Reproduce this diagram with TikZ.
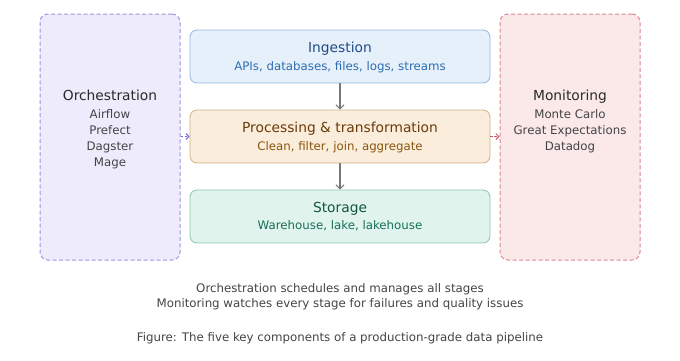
\documentclass[tikz,border=0pt]{standalone}
\usepackage{fontspec}
\setmainfont{DejaVu Sans}
\usetikzlibrary{arrows.meta}
\definecolor{orchfill}{HTML}{EEEBFC}
\definecolor{orchline}{HTML}{9F94E0}
\definecolor{orcharrow}{HTML}{7A66CC}
\definecolor{monfill}{HTML}{FBE9EA}
\definecolor{monline}{HTML}{D88A92}
\definecolor{monarrow}{HTML}{C0606A}
\definecolor{ingfill}{HTML}{E5F0FB}
\definecolor{ingline}{HTML}{94B9DF}
\definecolor{ingtitle}{HTML}{1F4D86}
\definecolor{ingsub}{HTML}{2F6DB0}
\definecolor{procfill}{HTML}{FBEDDC}
\definecolor{procline}{HTML}{D2AF86}
\definecolor{proctitle}{HTML}{6A3B08}
\definecolor{procsub}{HTML}{8A560F}
\definecolor{storfill}{HTML}{E0F3EC}
\definecolor{storline}{HTML}{8CC8B0}
\definecolor{stortitle}{HTML}{115543}
\definecolor{storsub}{HTML}{17705A}
\definecolor{sidetitle}{HTML}{2A2A2A}
\definecolor{sidetext}{HTML}{444444}
\definecolor{captext}{HTML}{444444}
\definecolor{flowgray}{HTML}{777777}
\begin{document}
\begin{tikzpicture}[x=1pt,y=-1pt,
  stagebox/.style={draw, line width=0.8pt, rounded corners=7pt, minimum width=300pt, minimum height=53pt, inner sep=0pt},
  sidebox/.style={draw, line width=1pt, dash pattern=on 4pt off 2.5pt, rounded corners=8pt, minimum width=140pt, minimum height=246pt, inner sep=0pt},
  ttl/.style={anchor=base, inner sep=0pt, font=\fontsize{13.8}{16}\selectfont},
  sub/.style={anchor=base, inner sep=0pt, font=\fontsize{11.8}{14}\selectfont},
  flow/.style={draw=flowgray, line width=1.1pt, -{Straight Barb[length=4pt,width=8pt]}},
  sideflow/.style={line width=1pt, dash pattern=on 2.5pt off 1.5pt, -{Straight Barb[length=3pt,width=6pt]}}
]
\path[use as bounding box] (0,0) rectangle (680,360);

% side boxes
\node[sidebox, fill=orchfill, draw=orchline] (orch) at (110,137) {};
\node[sidebox, fill=monfill, draw=monline] (mon) at (570,137) {};

% stage boxes
\node[stagebox, fill=ingfill, draw=ingline] (ing) at (340,56.5) {};
\node[stagebox, fill=procfill, draw=procline] (proc) at (340,136.5) {};
\node[stagebox, fill=storfill, draw=storline] (stor) at (340,216.5) {};

% stage texts
\node[ttl, text=ingtitle] (ingT) at (340,52) {Ingestion};
\node[sub, text=ingsub] (ingS) at (340,70) {APIs, databases, files, logs, streams};
\node[ttl, text=proctitle] (procT) at (340,132) {Processing \& transformation};
\node[sub, text=procsub] (procS) at (340,150) {Clean, filter, join, aggregate};
\node[ttl, text=stortitle] (storT) at (340,212) {Storage};
\node[sub, text=storsub] (storS) at (340,229.5) {Warehouse, lake, lakehouse};

% side texts
\node[ttl, text=sidetitle] (orchT) at (110,100) {Orchestration};
\node[sub, text=sidetext] (orch1) at (110,118) {Airflow};
\node[sub, text=sidetext] (orch2) at (110,134) {Prefect};
\node[sub, text=sidetext] (orch3) at (110,150) {Dagster};
\node[sub, text=sidetext] (orch4) at (110,166) {Mage};

\node[ttl, text=sidetitle] (monT) at (570,100) {Monitoring};
\node[sub, text=sidetext] (mon1) at (570,118) {Monte Carlo};
\node[sub, text=sidetext] (mon2) at (570,134) {Great Expectations};
\node[sub, text=sidetext] (mon3) at (570,150) {Datadog};

% connectors
\draw[flow] (ing.south) -- (proc.north);
\draw[flow] (proc.south) -- (stor.north);
\draw[sideflow, draw=orcharrow] (orch.east |- proc.west) -- (proc.west);
\draw[sideflow, draw=monarrow] (proc.east) -- (mon.west |- proc.east);

% captions
\node[sub, text=captext] (cap1) at (340,292.5) {Orchestration schedules and manages all stages};
\node[sub, text=captext] (cap2) at (340,307.5) {Monitoring watches every stage for failures and quality issues};
\node[sub, text=captext] (cap3) at (340,341) {Figure: The five key components of a production-grade data pipeline};
\end{tikzpicture}
\end{document}
